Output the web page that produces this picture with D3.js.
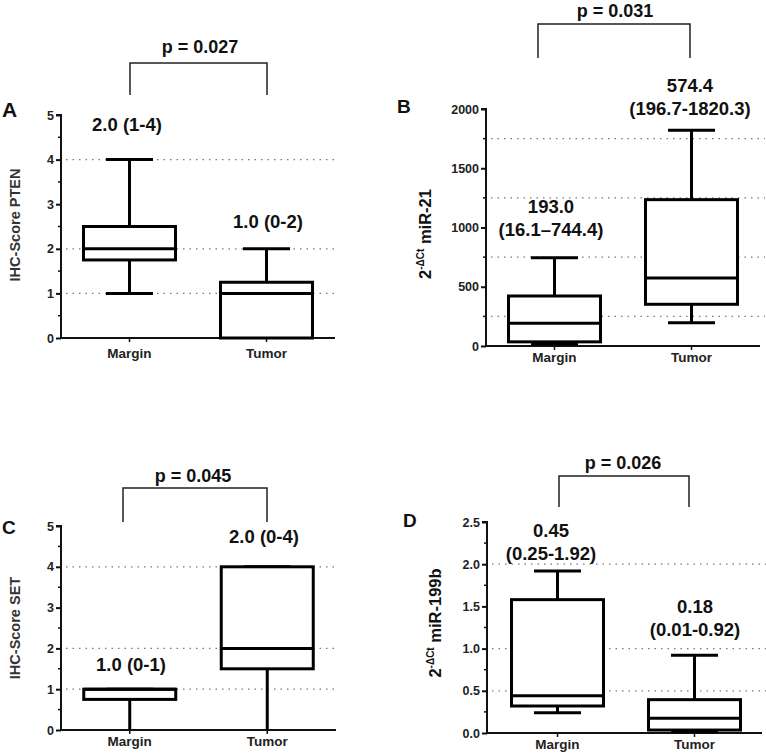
<!DOCTYPE html>
<html><head><meta charset="utf-8">
<script src="https://cdn.jsdelivr.net/npm/d3@7"></script>
<style>body{margin:0;background:#fff} svg{display:block} text{font-family:"Liberation Sans",Arial,Helvetica,sans-serif}</style>
</head><body><svg id="c" width="766" height="753"></svg>
<script>
// ---------- data ----------
const categories = ["Margin", "Tumor"];
// five-number summaries per category: [min, q1, median, q3, max]
const ptenStats    = [[1, 1.75, 2, 2.5, 4], [0, 0, 1, 1.25, 2]];
const mir21Stats   = [[16.1, 35, 193, 422, 744.4], [196.7, 352, 574.4, 1235, 1820.3]];
const setStats     = [[0, 0.75, 1, 1, 1], [0, 1.5, 2, 4, 4]];
const mir199bStats = [[0.24, 0.32, 0.44, 1.58, 1.92], [0.01, 0.035, 0.175, 0.395, 0.92]];

const ptenTicks = [0, 1, 2, 3, 4, 5];
const mir21Ticks = [0, 500, 1000, 1500, 2000];
const setTicks = [0, 1, 2, 3, 4, 5];
const mir199bTicks = [0, 0.5, 1, 1.5, 2, 2.5];
const mir199bTickLabels = ["0.0", "0.5", "1.0", "1.5", "2.0", "2.5"];

const ptenMinor = [0.5, 1.5, 2.5, 3.5, 4.5];
const mir21Minor = [250, 750, 1250, 1750];
const setMinor = [0.5, 1.5, 2.5, 3.5, 4.5];
const mir199bMinor = [0.25, 0.75, 1.25, 1.75, 2.25];

const ptenGrid = [1, 2, 4];
const mir21Grid = [250, 750, 1250, 1750];
const setGrid = [1, 2, 4];
const mir199bGrid = [0.5, 1, 2];

const ptenLabels = [["2.0 (1-4)"], ["1.0 (0-2)"]];
const mir21Labels = [["193.0", "(16.1\u2013744.4)"], ["574.4", "(196.7-1820.3)"]];
const setLabels = [["1.0 (0-1)"], ["2.0 (0-4)"]];
const mir199bLabels = [["0.45", "(0.25-1.92)"], ["0.18", "(0.01-0.92)"]];

const pValues = ["p = 0.027", "p = 0.031", "p = 0.045", "p = 0.026"];
const panelLetters = ["A", "B", "C", "D"];

// ---------- layout ----------
const panels = [
  { letter: panelLetters[0], stats: ptenStats, ticks: ptenTicks, tickLabels: ptenTicks.map(String), minor: ptenMinor, grid: ptenGrid,
    labels: ptenLabels, p: pValues[0], domain: [0, 5],
    L: { lx: 2, ly: 117, lsize: 21, ax: 61, axEnd: 335, band: [61, 335], yr: [338, 115], gridEnd: 338,
         ylab: { x: 20, y: 225, bold: true, fill: "#333", parts: [["IHC-Score PTEN", 14.5, 0]] },
         br: { x1: 130, x2: 267, top: 63, bot: 95, tx: 200, ty: 53 },
         vl: [[127, [131]], [268, [228]]], xly: 358 } },
  { letter: panelLetters[1], stats: mir21Stats, ticks: mir21Ticks, tickLabels: mir21Ticks.map(String), minor: mir21Minor, grid: mir21Grid,
    labels: mir21Labels, p: pValues[1], domain: [0, 2000],
    L: { lx: 397, ly: 113, lsize: 19, ax: 486, axEnd: 760, band: [486, 760], yr: [346, 109], gridEnd: 765,
         ylab: { x: 431, y: 234, bold: true, fill: "#111", parts: [["2", 16.5, 0], ["-\u0394Ct", 10, 1], [" miR-21", 16.5, 0]] },
         br: { x1: 538, x2: 690, top: 24, bot: 58, tx: 615, ty: 17 },
         vl: [[551, [213, 236]], [690, [92, 115]]], xly: 362 } },
  { letter: panelLetters[2], stats: setStats, ticks: setTicks, tickLabels: setTicks.map(String), minor: setMinor, grid: setGrid,
    labels: setLabels, p: pValues[2], domain: [0, 5],
    L: { lx: 2, ly: 534, lsize: 19, ax: 61, axEnd: 336, band: [61, 336], yr: [730, 526], gridEnd: 338,
         ylab: { x: 20, y: 628, bold: true, fill: "#333", parts: [["IHC-Score SET", 14.5, 0]] },
         br: { x1: 123, x2: 267, top: 488, bot: 522, tx: 193, ty: 482 },
         vl: [[131, [671]], [264, [543]]], xly: 746 } },
  { letter: panelLetters[3], stats: mir199bStats, ticks: mir199bTicks, tickLabels: mir199bTickLabels, minor: mir199bMinor, grid: mir199bGrid,
    labels: mir199bLabels, p: pValues[3], domain: [0, 2.5],
    L: { lx: 403, ly: 527, lsize: 19, ax: 487, axEnd: 762, band: [489, 763], yr: [733, 522], gridEnd: 766,
         ylab: { x: 441, y: 623, bold: true, fill: "#111", parts: [["2", 16.5, 0], ["-\u0394Ct", 10, 1], [" miR-199b", 16.5, 0]] },
         br: { x1: 559, x2: 689, top: 476, bot: 507, tx: 623, ty: 469 },
         vl: [[551, [537, 560]], [695, [613, 636]]], xly: 749 } }
];

const svg = d3.select("#c");
const BOXW = 92, CAPW = 47;

panels.forEach(P => {
  const L = P.L;
  const g = svg.append("g");
  const y = d3.scaleLinear().domain(P.domain).range(L.yr);
  const x = d3.scaleBand().domain(categories).range(L.band);
  const cx = c => x(c) + x.bandwidth() / 2;

  // grid
  g.selectAll(".grid").data(P.grid).enter().append("line")
    .attr("x1", L.ax + 5).attr("x2", L.gridEnd)
    .attr("y1", d => y(d)).attr("y2", d => y(d))
    .attr("stroke", "#777").attr("stroke-width", 1.2).attr("stroke-dasharray", "1.5,5");

  // y axis
  const yAxis = d3.axisLeft(y).tickValues(P.ticks).tickFormat((d, i) => P.tickLabels[i]).tickSize(5).tickPadding(2);
  const ya = g.append("g").attr("transform", `translate(${L.ax},0)`).call(yAxis);
  ya.select(".domain").attr("stroke", "#111").attr("stroke-width", 2).attr("d", `M-5,${L.yr[1]}H0V${L.yr[0]}`);
  ya.selectAll(".tick line").attr("stroke", "#111").attr("stroke-width", 2);
  ya.selectAll(".tick text").attr("font-size", 12.5).attr("font-weight", "bold").attr("fill", "#222")
    .attr("font-family", "'Liberation Sans',Arial,sans-serif");
  // minor ticks
  g.selectAll(".minor").data(P.minor).enter().append("line")
    .attr("x1", L.ax - 3).attr("x2", L.ax).attr("y1", d => y(d)).attr("y2", d => y(d))
    .attr("stroke", "#111").attr("stroke-width", 1.5);

  // x axis
  const xAxis = d3.axisBottom(x).tickSize(4).tickPadding(4);
  const xa = g.append("g").attr("transform", `translate(0,${L.yr[0]})`).call(xAxis);
  xa.select(".domain").attr("d", `M${L.ax},0H${L.axEnd}`).attr("stroke", "#111").attr("stroke-width", 2);
  xa.selectAll(".tick line").attr("stroke", "#111").attr("stroke-width", 1.5);
  xa.selectAll(".tick text").remove();
  g.selectAll(".xl").data(categories).enter().append("text")
    .attr("x", d => cx(d)).attr("y", L.xly).attr("text-anchor", "middle")
    .attr("font-size", 13.5).attr("font-weight", "bold").attr("fill", "#222").text(d => d);

  // boxes
  const boxes = g.selectAll(".box").data(categories.map((c, i) => ({ c, s: P.stats[i] }))).enter().append("g");
  boxes.append("line").attr("x1", d => cx(d.c)).attr("x2", d => cx(d.c))
    .attr("y1", d => y(d.s[0])).attr("y2", d => y(d.s[1])).attr("stroke", "#000").attr("stroke-width", 3);
  boxes.append("line").attr("x1", d => cx(d.c)).attr("x2", d => cx(d.c))
    .attr("y1", d => y(d.s[3])).attr("y2", d => y(d.s[4])).attr("stroke", "#000").attr("stroke-width", 3);
  boxes.append("line").attr("x1", d => cx(d.c) - CAPW / 2).attr("x2", d => cx(d.c) + CAPW / 2)
    .attr("y1", d => Math.min(y(d.s[0]), L.yr[0] - 1.5)).attr("y2", d => Math.min(y(d.s[0]), L.yr[0] - 1.5))
    .attr("stroke", "#000").attr("stroke-width", d => d.s[0] === P.domain[0] ? 0 : 3);
  boxes.append("line").attr("x1", d => cx(d.c) - CAPW / 2).attr("x2", d => cx(d.c) + CAPW / 2)
    .attr("y1", d => y(d.s[4])).attr("y2", d => y(d.s[4])).attr("stroke", "#000").attr("stroke-width", 3);
  boxes.append("rect").attr("x", d => cx(d.c) - BOXW / 2).attr("width", BOXW)
    .attr("y", d => y(d.s[3])).attr("height", d => y(d.s[1]) - y(d.s[3]))
    .attr("fill", "#fff").attr("stroke", "#000").attr("stroke-width", 3);
  boxes.append("line").attr("x1", d => cx(d.c) - BOXW / 2).attr("x2", d => cx(d.c) + BOXW / 2)
    .attr("y1", d => y(d.s[2])).attr("y2", d => y(d.s[2])).attr("stroke", "#000").attr("stroke-width", 3);

  // value labels
  P.labels.forEach((lines, i) => {
    const [lx, ys] = L.vl[i];
    lines.forEach((t, j) => {
      g.append("text").attr("x", lx).attr("y", ys[j]).attr("text-anchor", "middle")
        .attr("font-size", 18.5).attr("font-weight", "bold").attr("fill", "#111").text(t);
    });
  });

  // bracket
  g.append("path").attr("d", `M${L.br.x1},${L.br.bot}V${L.br.top}H${L.br.x2}V${L.br.bot}`)
    .attr("fill", "none").attr("stroke", "#222").attr("stroke-width", 1.5);
  g.append("text").attr("x", L.br.tx).attr("y", L.br.ty).attr("text-anchor", "middle")
    .attr("font-size", 18).attr("font-weight", "bold").attr("fill", "#111").text(P.p);

  // panel letter
  g.append("text").attr("x", L.lx).attr("y", L.ly).attr("font-size", L.lsize).attr("font-weight", "bold")
    .attr("fill", "#111").text(P.letter);

  // y label
  const yl = g.append("text").attr("transform", `translate(${L.ylab.x},${L.ylab.y}) rotate(-90)`)
    .attr("text-anchor", "middle").attr("font-weight", L.ylab.bold ? "bold" : "normal")
    .attr("fill", L.ylab.fill);
  L.ylab.parts.forEach(([t, fs, sup]) => {
    yl.append("tspan").attr("font-size", fs)
      .attr("baseline-shift", sup ? "7" : null).text(t);
  });
});
</script></body></html>
